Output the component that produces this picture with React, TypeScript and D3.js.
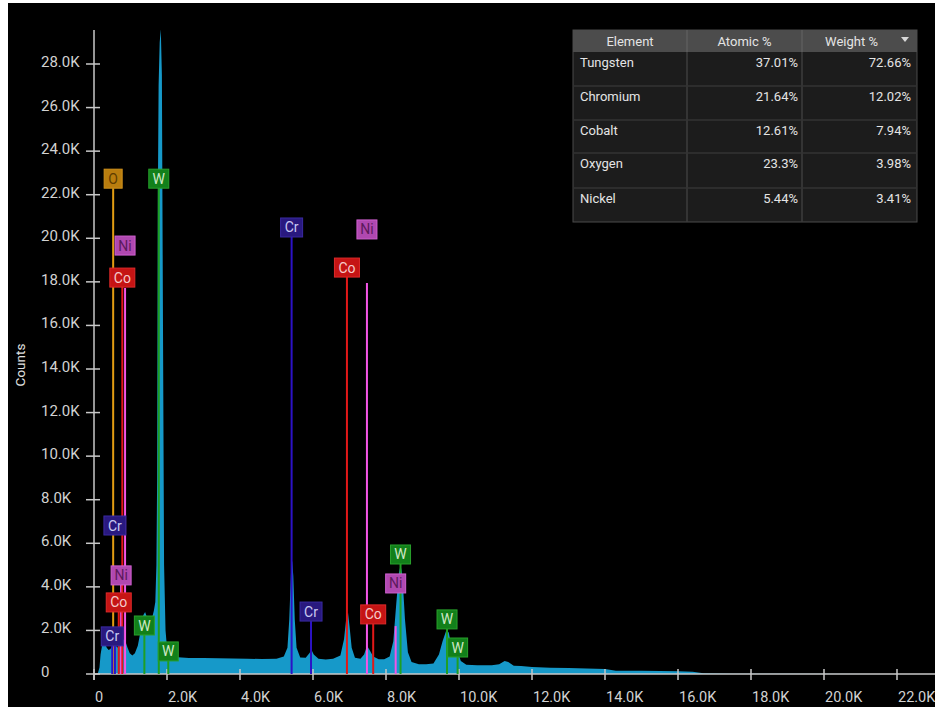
import React from "react";
import * as d3 from "d3";

// ---------- data ----------
// spectrum: energy (eV), counts
const spectrumEnergy = [
  0, 100, 150, 180, 220, 260, 300, 350, 400, 450, 500, 550, 600, 650, 700, 780, 850, 920, 980, 1050, 1120, 1200, 1280, 1350, 1400, 1450, 1520, 1580, 1640, 1680, 1710, 1730, 1750, 1770, 1800, 1830, 1860, 1890, 1920, 1960, 2000, 2050, 2100, 2200, 2400, 2600, 3000, 3400, 3800, 4200, 4600, 5000, 5200, 5300, 5350, 5400, 5430, 5460, 5500, 5550, 5650, 5800, 5900, 5960, 6020, 6150, 6350, 6550, 6750, 6850, 6920, 6960, 7000, 7060, 7150, 7300, 7400, 7480, 7550, 7650, 7800, 7950, 8100, 8200, 8280, 8350, 8400, 8450, 8520, 8600, 8700, 8900, 9100, 9300, 9450, 9550, 9650, 9720, 9800, 9920, 9980, 10050, 10200, 10500, 10900, 11100, 11250, 11350, 11500, 11700, 12000, 12500, 13000, 13500, 14000, 14300, 15000, 15500, 16000, 16400, 16700, 17500, 19000, 21500,
];
const spectrumCounts = [
  0, 0, 300, 900, 1300, 1500, 1400, 1200, 1100, 1150, 1300, 1400, 1300, 1200, 1400, 1600, 1550, 1200, 950, 850, 950, 1300, 2000, 2700, 2850, 2600, 2300, 2500, 2900, 3300, 5000, 9000, 22000, 27000, 29000, 29600, 27500, 16000, 5000, 2000, 1200, 1000, 850, 780, 760, 740, 730, 720, 710, 700, 690, 700, 800, 1200, 2500, 4800, 5200, 4500, 2500, 1200, 760, 750, 950, 1100, 900, 700, 660, 700, 850, 1600, 2700, 2800, 2200, 1200, 750, 700, 900, 1300, 1100, 800, 680, 680, 800, 1500, 3200, 4600, 5000, 4500, 2500, 1000, 550, 450, 450, 480, 900, 1500, 2000, 1900, 1200, 1000, 950, 600, 420, 400, 400, 450, 600, 550, 380, 370, 320, 290, 270, 250, 230, 150, 145, 140, 130, 100, 30, 15, 10, 0,
];

// element markers: symbol, line energy (eV), top of line (counts), bottom of label (counts)
const markerElement = ["O", "Cr", "Cr", "Co", "Ni", "Co", "Ni", "W", "W", "W", "Cr", "Cr", "Co", "Ni", "Co", "Ni", "W", "W", "W"];
const markerEnergy = [525, 573, 500, 678, 743, 776, 851, 1380, 1775, 2035, 5414, 5946, 6930, 7478, 7649, 8265, 8398, 9672, 9962];
const markerLineTop = [22300, 1290, 1290, 2850, 4090, 17760, 17720, 1790, 22300, 600, 20060, 2430, 18220, 17950, 2300, 2200, 5050, 2070, 780];
const markerLabelAt = [22300, 6380, 1290, 2850, 4090, 17760, 19230, 1790, 22300, 600, 20060, 2430, 18220, 19970, 2300, 3720, 5050, 2070, 780];

const xTickValues = [0, 2000, 4000, 6000, 8000, 10000, 12000, 14000, 16000, 18000, 20000, 22000];
const xTickLabels = ["0", "2.0K", "4.0K", "6.0K", "8.0K", "10.0K", "12.0K", "14.0K", "16.0K", "18.0K", "20.0K", "22.0K"];
const yTickValues = [0, 2000, 4000, 6000, 8000, 10000, 12000, 14000, 16000, 18000, 20000, 22000, 24000, 26000, 28000];
const yTickLabels = ["0", "2.0K", "4.0K", "6.0K", "8.0K", "10.0K", "12.0K", "14.0K", "16.0K", "18.0K", "20.0K", "22.0K", "24.0K", "26.0K", "28.0K"];

const tableHeader = ["Element", "Atomic %", "Weight %"];
const tableElements = ["Tungsten", "Chromium", "Cobalt", "Oxygen", "Nickel"];
const tableAtomic = ["37.01%", "21.64%", "12.61%", "23.3%", "5.44%"];
const tableWeight = ["72.66%", "12.02%", "7.94%", "3.98%", "3.41%"];

// ---------- styles ----------
const elStyle: Record<string, { fill: string; text: string; stroke: string; line: string; w: number }> = {
  O: { fill: "#b97d0e", text: "#5e3c00", stroke: "#d0921c", line: "#e29c12", w: 18 },
  W: { fill: "#12801a", text: "#cfe8c6", stroke: "#28a02c", line: "#1f9f22", w: 20 },
  Ni: { fill: "#b048b0", text: "#5c1a5c", stroke: "#d060d0", line: "#f455e6", w: 20 },
  Co: { fill: "#c51414", text: "#f6caca", stroke: "#de2a2a", line: "#e21818", w: 25 },
  Cr: { fill: "#29197f", text: "#cacaf2", stroke: "#3a2aa2", line: "#2c12c6", w: 22 },
};

const FONT = "Roboto, 'Noto Sans', sans-serif";

export default function App() {
  const W = 935;
  const H = 707;
  const x = d3.scaleLinear().domain([0, 22000]).range([94, 897]);
  const y = d3.scaleLinear().domain([0, 28000]).range([674, 64]);
  const yTop = 30;

  const pts = spectrumEnergy.map((e, i) => [e, spectrumCounts[i]] as [number, number]);
  const area = d3
    .area<[number, number]>()
    .x((d) => x(d[0]))
    .y0(y(0))
    .y1((d) => y(d[1]))
    .curve(d3.curveLinear);

  const tx = 573, ty = 30, tw = 344;
  const colX = [573, 687, 802, 917];
  const headH = 22;
  const rowY = [52, 86, 120, 153, 188, 222];

  return (
    <svg
      width={W}
      height={H}
      style={{ position: "absolute", left: 0, top: 0, display: "block" }}
      fontFamily={FONT}
    >
      <rect x={0} y={0} width={W} height={H} fill="#ffffff" />
      <rect x={8} y={3} width={W - 8} height={H - 3} fill="#000000" />

      {/* spectrum */}
      <path d={area(pts) || ""} fill="#1699c9" />

      {/* axes */}
      <line x1={x(0)} x2={x(0)} y1={yTop} y2={680} stroke="#c8c8c8" strokeWidth={1.5} />
      <line x1={x(0)} x2={W} y1={y(0)} y2={y(0)} stroke="#c8c8c8" strokeWidth={1.5} />
      {yTickValues.map((v, i) => (
        <g key={"yt" + i}>
          <line x1={x(0) - 8} x2={x(0) + 6} y1={y(v)} y2={y(v)} stroke="#c8c8c8" strokeWidth={1.5} />
          <text x={41} y={y(v) + 3} fontSize={15} fill="#d2d2d2">
            {yTickLabels[i]}
          </text>
        </g>
      ))}
      {xTickValues.map((v, i) => (
        <g key={"xt" + i}>
          <line x1={x(v)} x2={x(v)} y1={y(0) - 5} y2={y(0) + 6} stroke="#c8c8c8" strokeWidth={1.5} />
          <text x={x(v) + 1} y={702} fontSize={14.5} fill="#d2d2d2">
            {xTickLabels[i]}
          </text>
        </g>
      ))}
      <text
        transform={`translate(25,365) rotate(-90)`}
        textAnchor="middle"
        fontSize={13.5}
        fill="#e0e0e0"
      >
        Counts
      </text>

      {/* marker lines */}
      {markerEnergy.map((e, i) => {
        const s = elStyle[markerElement[i]];
        return (
          <line
            key={"ml" + i}
            x1={x(e)}
            x2={x(e)}
            y1={y(markerLineTop[i])}
            y2={y(0)}
            stroke={s.line}
            strokeWidth={2}
          />
        );
      })}
      {/* marker labels */}
      {markerEnergy.map((e, i) => {
        const s = elStyle[markerElement[i]];
        const cx = x(e);
        const by = y(markerLabelAt[i]);
        return (
          <g key={"mb" + i}>
            <rect x={cx - s.w / 2} y={by - 19} width={s.w} height={19} fill={s.fill} stroke={s.stroke} strokeWidth={1} />
            <text x={cx} y={by - 4.5} textAnchor="middle" fontSize={14} fill={s.text}>
              {markerElement[i]}
            </text>
          </g>
        );
      })}

      {/* table */}
      <rect x={tx} y={ty} width={tw} height={rowY[5] - ty} fill="#1c1c1c" stroke="#4a4a4a" strokeWidth={1} />
      <rect x={tx} y={ty} width={tw} height={headH} fill="#4c4c4c" />
      {[1, 2].map((c) => (
        <line key={"cd" + c} x1={colX[c]} x2={colX[c]} y1={ty} y2={rowY[5]} stroke="#3c3c3c" strokeWidth={1.5} />
      ))}
      {[1, 2].map((c) => (
        <line key={"hd" + c} x1={colX[c]} x2={colX[c]} y1={ty} y2={ty + headH} stroke="#606060" strokeWidth={1.5} />
      ))}
      {[1, 2, 3, 4].map((r) => (
        <line key={"rd" + r} x1={tx} x2={tx + tw} y1={rowY[r]} y2={rowY[r]} stroke="#333333" strokeWidth={1.5} />
      ))}
      {tableHeader.map((h, c) => (
        <text
          key={"th" + c}
          x={(colX[c] + colX[c + 1]) / 2 + (c === 2 ? -8 : 0)}
          y={ty + 16}
          textAnchor="middle"
          fontSize={13}
          fill="#e4e4e4"
        >
          {h}
        </text>
      ))}
      <path d={`M901,37 L909,37 L905,42 Z`} fill="#d8d8d8" />
      {tableElements.map((name, r) => (
        <g key={"tr" + r}>
          <text x={580} y={rowY[r] + 15} fontSize={13} fill="#e4e4e4">
            {name}
          </text>
          <text x={798} y={rowY[r] + 15} textAnchor="end" fontSize={13} fill="#e4e4e4">
            {tableAtomic[r]}
          </text>
          <text x={911} y={rowY[r] + 15} textAnchor="end" fontSize={13} fill="#e4e4e4">
            {tableWeight[r]}
          </text>
        </g>
      ))}
    </svg>
  );
}
